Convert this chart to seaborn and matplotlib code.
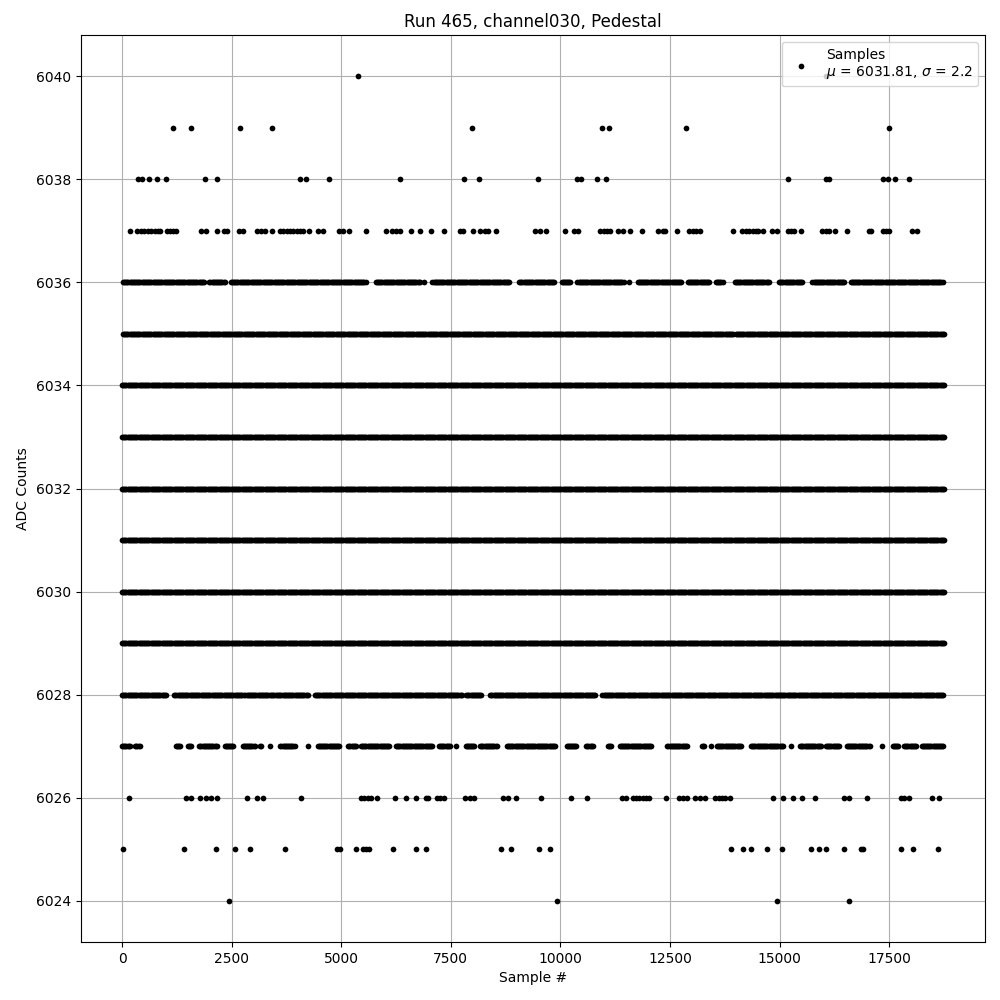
import numpy as np
import pandas as pd
import matplotlib
matplotlib.use("Agg")
import matplotlib.pyplot as plt
import seaborn as sns

# sample numbers of the rare values
adc_6040 = [5390, 16050]
adc_6039 = [1170, 1580, 2680, 3430, 7990, 10950, 11120, 12870, 17500]
adc_6038 = [360, 460, 610, 790, 1000, 1900, 2170, 4070, 4200, 4710, 6350, 7790,
            8150, 9490, 10390, 10470, 10840, 11050, 15200, 16070, 16130, 17370,
            17470, 17630, 17960]
adc_6037 = [170, 335, 430, 510, 585, 660, 740, 815, 875, 1025, 1090, 1165, 1225,
            1810, 1920, 2175, 2335, 2390, 2675, 2765, 3085, 3175, 3255, 3420, 3605,
            3680, 3755, 3830, 3910, 3985, 4060, 4120, 4270, 4480, 4580, 4955, 5035,
            5185, 5575, 6030, 6160, 6255, 6350, 6590, 6805, 7055, 7350, 7710, 7770,
            8000, 8175, 8280, 8340, 8530, 9420, 9540, 9680, 10100, 10310, 10410,
            10910, 10990, 11060, 11125, 11305, 11420, 11595, 11870, 12220, 12335,
            12395, 12665, 12940, 13020, 13095, 13190, 13945, 14150, 14235, 14310,
            14385, 14460, 14515, 14630, 14835, 14935, 15185, 15260, 15335, 15490,
            15965, 16060, 16135, 16255, 16545, 17040, 17085, 17350, 17425, 17505,
            18015, 18135]
adc_6026 = [165, 1450, 1575, 1785, 1910, 2030, 2165, 2860, 3070, 3225, 4090, 5450,
            5530, 5605, 5680, 5815, 6235, 6485, 6715, 6940, 6975, 7185, 7260, 7335,
            7825, 7945, 8035, 8685, 8810, 8995, 9565, 10250, 10615, 11405, 11495,
            11650, 11725, 11800, 11875, 11950, 12030, 12415, 12710, 12790, 12880,
            13075, 13190, 13290, 13535, 13610, 13685, 13760, 13860, 14855, 15085,
            15315, 15520, 15815, 16460, 16590, 17000, 17760, 17845, 17950, 18485,
            18635]
adc_6025 = [30, 1420, 2150, 2565, 2925, 3725, 4895, 4975, 5345, 5490, 5565, 5640,
            6190, 6715, 6940, 8655, 8880, 9520, 9770, 13890, 14175, 14355, 14705,
            15060, 15725, 15905, 16065, 16470, 16850, 16910, 17775, 18050, 18620]
adc_6024 = [2450, 9930, 14950, 16590]

# sample ranges that are filled in for the common values
runs_6036 = [(20, 1880), (1990, 2340), (2480, 5570), (5790, 6790), (6896, 6896),
             (7080, 8840), (9060, 9860), (10030, 10250), (10390, 11460),
             (11572, 11572), (11760, 12760), (12900, 13400), (13550, 13720),
             (13980, 14770), (14990, 15530), (15750, 16480), (16620, 18740)]
runs_6035 = [(20, 13960), (14000, 18750)]
runs_6034 = [(0, 18750)]
runs_6033 = [(0, 18750)]
runs_6032 = [(0, 18750)]
runs_6031 = [(0, 18750)]
runs_6030 = [(0, 18750)]
runs_6029 = [(0, 18750)]
runs_6028 = [(0, 1000), (1190, 2750), (2790, 3470), (3510, 4250), (4400, 7770),
             (7850, 8200), (8400, 10800), (10960, 18750)]
runs_6027 = [(0, 180), (300, 420), (1220, 1330), (1500, 1590), (1760, 2170),
             (2340, 2550), (2750, 3030), (3150, 3190), (3370, 3370), (3610, 3950),
             (4240, 4240), (4460, 4970), (5160, 5350), (5450, 6100), (6250, 7090),
             (7230, 7480), (7620, 7620), (7840, 8050), (8170, 8560), (8780, 9880),
             (10140, 10370), (10590, 10740), (11080, 11170), (11350, 12080),
             (12440, 12900), (13220, 13270), (13440, 13440), (13570, 14140),
             (14350, 15090), (15260, 15260), (15470, 15950), (16060, 16360),
             (16530, 17060), (17340, 17340), (17580, 17710), (17840, 18130),
             (18240, 18740)]

mean_adc = 6031.81
sigma_adc = 2.2
run_number = 465
channel = "channel030"


def expand(runs, step=25):
    out = []
    for a, b in runs:
        out.extend(np.arange(a, b + 1, step))
    return out


points = {
    6040: adc_6040, 6039: adc_6039, 6038: adc_6038, 6037: adc_6037,
    6036: expand(runs_6036), 6035: expand(runs_6035), 6034: expand(runs_6034),
    6033: expand(runs_6033), 6032: expand(runs_6032), 6031: expand(runs_6031),
    6030: expand(runs_6030), 6029: expand(runs_6029), 6028: expand(runs_6028),
    6027: expand(runs_6027), 6026: adc_6026, 6025: adc_6025, 6024: adc_6024,
}
rows = []
for level, xs in points.items():
    for s in xs:
        rows.append((s, level))
df = pd.DataFrame(rows, columns=["sample", "adc"])

fig, ax = plt.subplots(figsize=(10, 10), dpi=100)
sns.scatterplot(data=df, x="sample", y="adc", color="black", marker="o", s=17,
                linewidth=0, zorder=2, ax=ax,
                label=f"Samples\n$\\mu$ = {mean_adc}, $\\sigma$ = {sigma_adc}")

ax.set_yticks(np.arange(6024, 6041, 2))
ax.set_xticks(np.arange(0, 17501, 2500))
ax.grid(True, color="#b0b0b0", linewidth=0.8)
ax.set_title(f"Run {run_number}, {channel}, Pedestal")
ax.set_xlabel("Sample #")
ax.set_ylabel("ADC Counts")
ax.legend(loc="upper right")

plt.subplots_adjust(left=0.081, right=0.985, top=0.965, bottom=0.058)
plt.savefig("out.png", dpi=100)
